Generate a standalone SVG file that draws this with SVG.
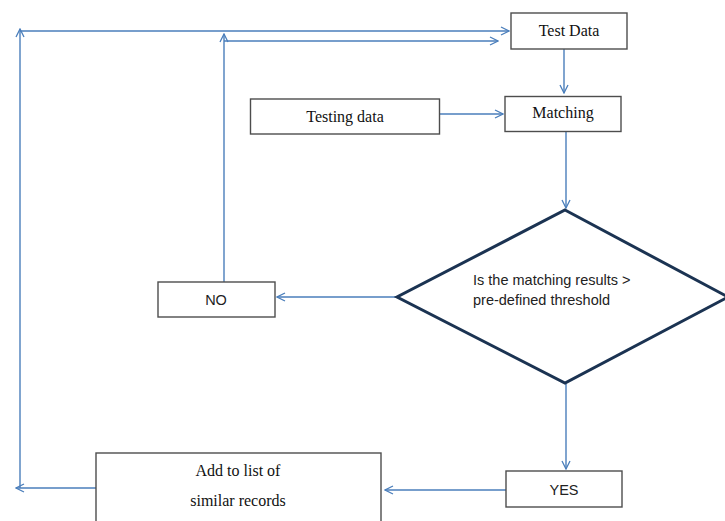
<svg xmlns="http://www.w3.org/2000/svg" width="725" height="521" viewBox="0 0 725 521">
  <defs>
    <marker id="arrow" viewBox="0 0 10 10" refX="9" refY="5" markerWidth="10" markerHeight="10" markerUnits="userSpaceOnUse" orient="auto">
      <path d="M1,1 L9,5 L1,9" fill="none" stroke="#4a7ebb" stroke-width="1.3"/>
    </marker>
  </defs>
  <style>
    .box { fill: #ffffff; stroke: #4d4d4d; stroke-width: 1.4; }
    .diamond { fill: #ffffff; stroke: #1b3352; stroke-width: 3; }
    .line { fill: none; stroke: #4a7ebb; stroke-width: 1.4; }
    .arr { marker-end: url(#arrow); }
    .serif { font-family: "Liberation Serif", "Times New Roman", serif; font-size: 16px; fill: #111; }
    .sans { font-family: "Liberation Sans", Arial, sans-serif; font-size: 14.5px; fill: #222; }
  </style>
  <rect width="725" height="521" fill="#ffffff"/>

  <!-- connectors -->
  <g id="connectors">
    <line class="line arr" x1="97" y1="488" x2="16" y2="488"/>
    <line class="line arr" x1="20" y1="488" x2="20" y2="29"/>
    <line class="line arr" x1="20" y1="31" x2="509" y2="31"/>
    <line class="line arr" x1="224" y1="282" x2="224" y2="34"/>
    <line class="line arr" x1="224" y1="41" x2="498" y2="41"/>
    <line class="line arr" x1="564" y1="49" x2="564" y2="93"/>
    <line class="line arr" x1="440" y1="114" x2="503" y2="114"/>
    <line class="line arr" x1="566" y1="132" x2="566" y2="208"/>
    <line class="line arr" x1="397" y1="297" x2="277" y2="297"/>
    <line class="line arr" x1="566" y1="384" x2="566" y2="469"/>
    <line class="line arr" x1="506" y1="490" x2="385" y2="490"/>
  </g>

  <g id="test-data">
    <rect class="box" x="511" y="13" width="116" height="36"/>
    <text class="serif" x="569" y="36" text-anchor="middle">Test Data</text>
  </g>

  <g id="testing-data">
    <rect class="box" x="250.5" y="99" width="189" height="35"/>
    <text class="serif" x="345" y="122" text-anchor="middle">Testing data</text>
  </g>

  <g id="matching">
    <rect class="box" x="505" y="96.5" width="116" height="35"/>
    <text class="serif" x="563" y="118" text-anchor="middle">Matching</text>
  </g>

  <g id="decision">
    <polygon class="diamond" points="565,210 728,297 565,383 397,297"/>
    <text class="sans" x="473" y="285">Is the matching results &gt;</text>
    <text class="sans" x="473" y="305">pre-defined threshold</text>
  </g>

  <g id="no">
    <rect class="box" x="158" y="282" width="117" height="35"/>
    <text class="sans" x="216" y="305" text-anchor="middle">NO</text>
  </g>

  <g id="yes">
    <rect class="box" x="506" y="471" width="116" height="36"/>
    <text class="sans" x="564" y="495" text-anchor="middle">YES</text>
  </g>

  <g id="add-to-list">
    <rect class="box" x="96" y="453" width="285" height="80"/>
    <text class="serif" x="238" y="476" text-anchor="middle">Add to list of</text>
    <text class="serif" x="238" y="506" text-anchor="middle">similar records</text>
  </g>
</svg>
